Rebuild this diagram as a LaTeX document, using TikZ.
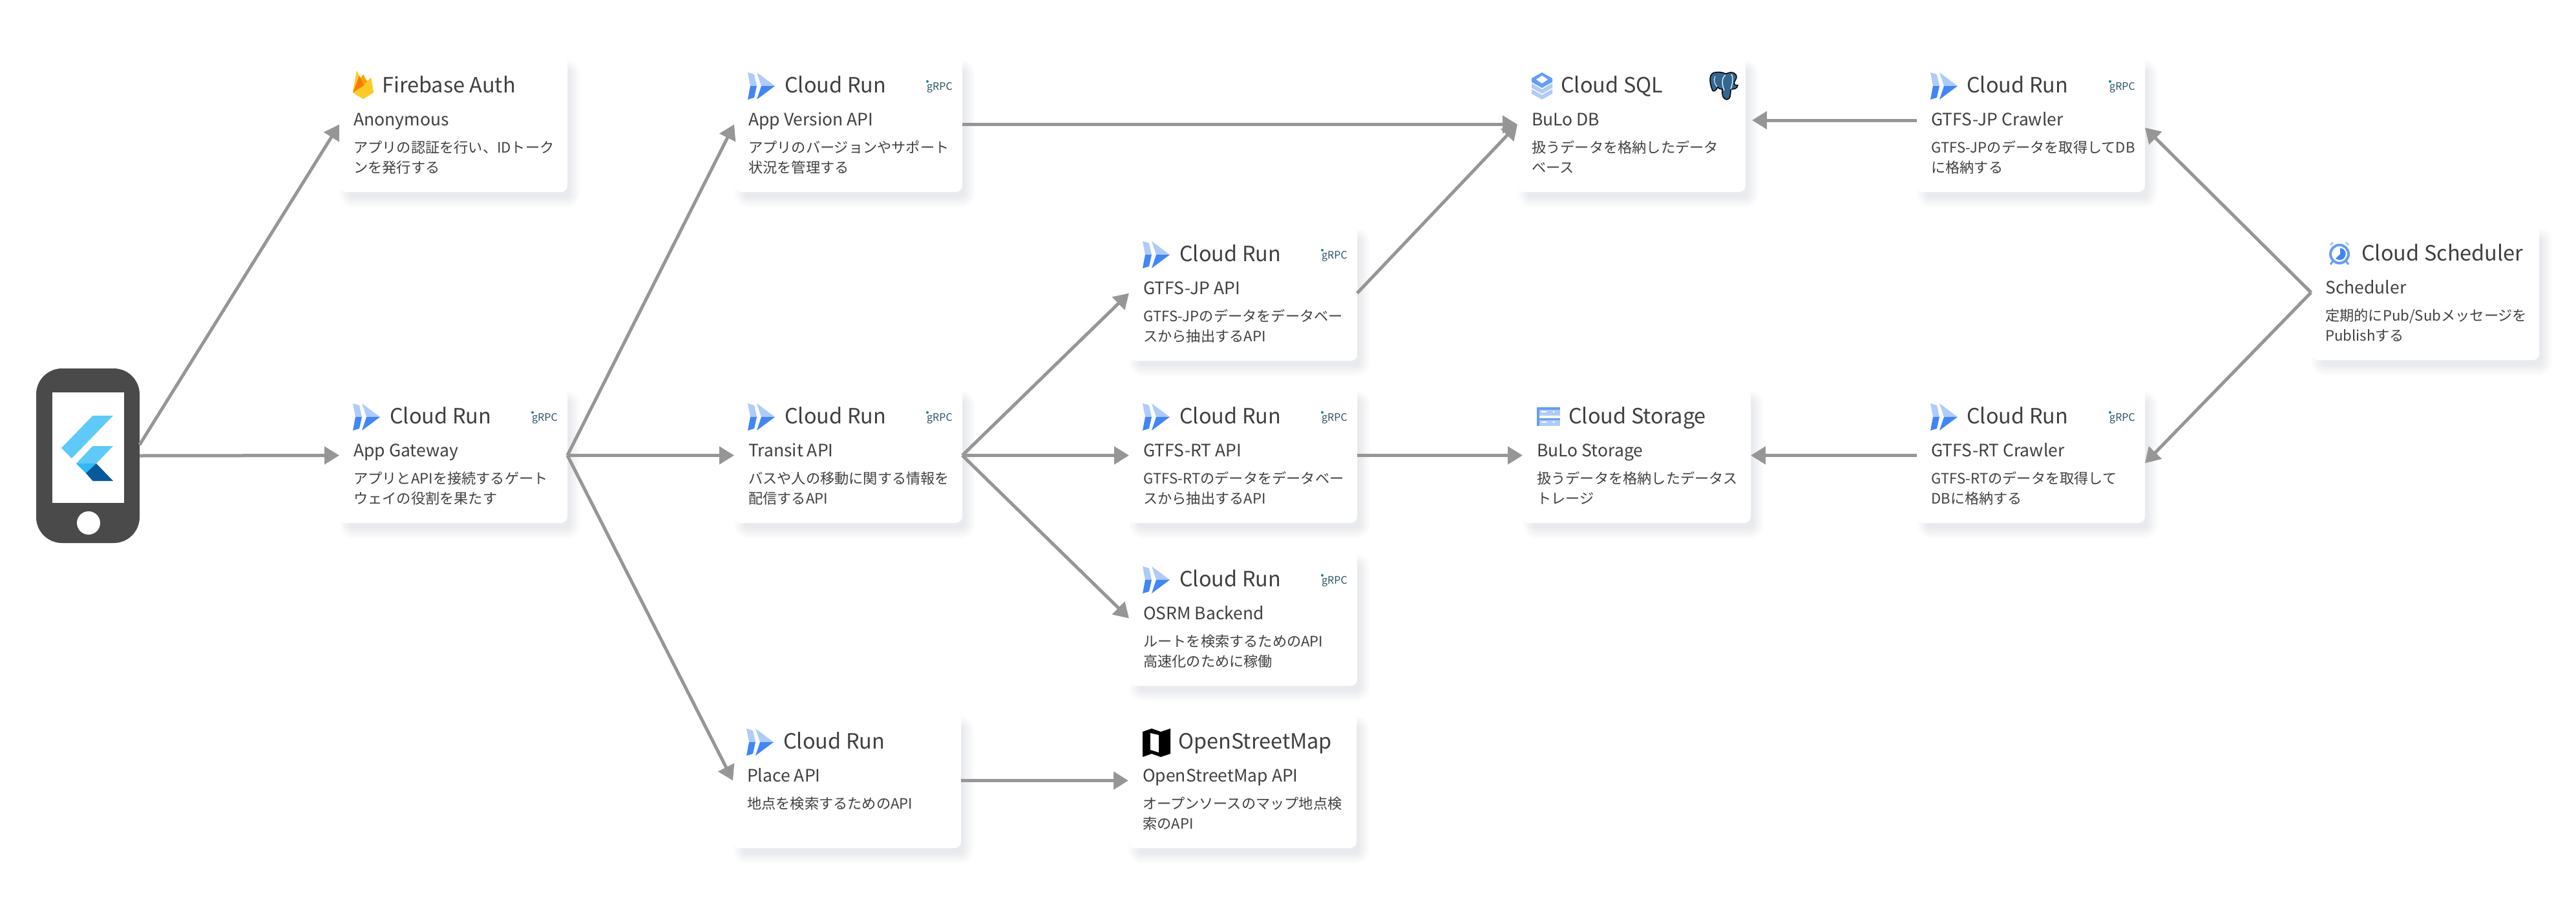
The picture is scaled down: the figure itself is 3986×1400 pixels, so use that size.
\documentclass[tikz,border=0pt]{standalone}
\usepackage{fontspec}
\setmainfont{Noto Sans CJK JP}
\usetikzlibrary{arrows.meta,backgrounds,shapes.geometric}
\definecolor{inkgray}{HTML}{404040}
\definecolor{edgegray}{HTML}{969696}
\definecolor{phonegray}{HTML}{4A4A4A}
\definecolor{gcpblue}{HTML}{4285F4}
\definecolor{gcpmid}{HTML}{669DF6}
\definecolor{gcplight}{HTML}{AECBFA}
\definecolor{grpcink}{HTML}{2C5468}
\definecolor{grpcdot}{HTML}{0E8A8E}
\definecolor{pgblue}{HTML}{336791}
\definecolor{shadowink}{HTML}{2D3A55}
\definecolor{flutterlight}{HTML}{5FC9F8}
\definecolor{fluttermid}{HTML}{2FB8F6}
\definecolor{flutterdark}{HTML}{06599B}
\definecolor{flameyellow}{HTML}{FFCA28}
\definecolor{flameamber}{HTML}{FFA000}
\definecolor{flameorange}{HTML}{F57C00}
\tikzset{
  card/.style={anchor=north west,fill=white,rounded corners=10pt,minimum width=353pt,minimum height=209pt,inner sep=0pt,outer sep=0pt},
  cardtitle/.style={anchor=base west,inner sep=0pt,text=inkgray,font=\fontsize{32.5}{40}\selectfont},
  cardname/.style={anchor=base west,inner sep=0pt,text=inkgray,font=\fontsize{26.5}{32}\selectfont},
  carddesc/.style={anchor=north west,inner sep=0pt,align=left,text=inkgray,font=\fontsize{22.2}{30.5}\selectfont},
  flow/.style={draw=edgegray,line width=5pt,-{Triangle[length=23pt,width=27pt]}},
  grpctext/.style={anchor=base west,inner sep=0pt,text=grpcink,font=\fontsize{16}{20}\selectfont},
  grpcmark/.pic={
    \fill [grpcdot] (299,38) circle (2);
    \node [grpctext] (label) at (298,51) {gRPC};
  },
  runicon/.pic={
    \fill [gcplight] (21,24) -- (31,27) -- (35,45) -- (25,45) -- cycle;
    \fill [gcpblue] (25,45) -- (35,45) -- (31,63) -- (21,66) -- cycle;
    \fill [gcplight] (35,24) -- (63,45) -- (42,45) -- cycle;
    \fill [gcpblue] (42,45) -- (63,45) -- (35,66) -- cycle;
  },
  flameicon/.pic={
    \fill [flameamber] (21,55) -- (27,22) -- (33,33) -- (37,27) -- (43,38) -- (49,32) -- (53,55) -- (37,65) -- cycle;
    \fill [flameyellow] (21,55) -- (38,44) -- (49,32) -- (53,55) -- (37,65) -- cycle;
    \fill [flameorange] (21,55) -- (31,29) -- (38,44) -- cycle;
    \fill [flameyellow] (21,55) -- (27,22) -- (31,29) -- cycle;
  },
  sqlicon/.pic={
    \fill [gcpmid] (38,24) -- (54,33) -- (54,39) -- (38,48) -- (22,39) -- (22,33) -- cycle;
    \fill [white] (38,29) -- (47,35) -- (38,41) -- (29,35) -- cycle;
    \fill [gcplight] (22,41) -- (38,50) -- (54,41) -- (54,48) -- (38,57) -- (22,48) -- cycle;
    \fill [gcplight] (22,50) -- (38,59) -- (54,50) -- (54,57) -- (38,66) -- (22,57) -- cycle;
  },
  elephanticon/.pic={
    \draw [black,line width=1.5pt,fill=pgblue] (306,24) .. controls (297,25) and (296,36) .. (301,50)
      .. controls (303,56) and (307,52) .. (310,47) .. controls (313,50) and (315,50) .. (317,50)
      .. controls (316,60) and (319,66) .. (324,66) .. controls (330,66) and (330,56) .. (330,50)
      .. controls (336,50) and (340,49) .. (341,44) .. controls (335,44) and (335,42) .. (336,38)
      .. controls (342,30) and (338,24) .. (330,24) -- (322,26) .. controls (318,24) and (312,23) .. (306,24) -- cycle;
    \draw [white,line width=1.2pt] (322,28) .. controls (316,32) and (316,42) .. (320,52);
    \draw [white,line width=1.2pt] (331,27) .. controls (335,33) and (332,44) .. (330,50);
    \draw [white,line width=1pt] (306,30) .. controls (303,36) and (305,42) .. (309,46);
  },
  storageicon/.pic={
    \fill [gcplight] (22,30) rectangle (58,43);
    \fill [gcplight] (22,47) rectangle (58,59);
    \fill [gcpmid] (22,30) rectangle (58,34);
    \fill [gcpmid] (22,47) rectangle (58,50);
    \fill [gcpmid] (22,30) rectangle (26,59);
    \fill [white] (29,36) rectangle (37,38);
    \fill [white] (29,52) rectangle (37,54);
    \fill [white] (48,37) circle (1.6);
    \fill [white] (48,53) circle (1.6);
  },
  clockicon/.pic={
    \draw [gcplight,line width=3pt] (30,31) -- (34,27);
    \draw [gcplight,line width=3pt] (58,31) -- (54,27);
    \draw [gcpmid,line width=3pt] (34,56) -- (30,61);
    \draw [gcpmid,line width=3pt] (54,56) -- (58,61);
    \draw [gcpmid,line width=4pt,fill=white] (44,45) circle (14);
    \fill [gcpblue] (45,36) .. controls (52,36) and (55,43) .. (53,48) .. controls (51,54) and (44,56) .. (38,52) -- (45,45) -- cycle;
  },
  mapicon/.pic={
    \fill [black] (22,29) -- (36,24) -- (50,29) -- (65,24) -- (65,63) -- (50,68) -- (36,63) -- (22,68) -- cycle;
    \fill [white] (34,31) -- (47,34) -- (47,61) -- (34,57) -- cycle;
  },
}
\begin{document}
\begin{tikzpicture}[x=1pt,y=-1pt]
\useasboundingbox (0,0) rectangle (3986,1400);
% first column
\node [card] (auth) at (525,88) {};
\node [cardtitle] (authtitle) at ([shift={(66,55)}]auth.north west) {Firebase Auth};
\node [cardname] (authname) at ([shift={(22,106)}]auth.north west) {Anonymous};
\node [carddesc] (authdesc) at ([shift={(22,127)}]auth.north west) {\strut アプリの認証を行い、IDトーク\\ンを発行する};
\pic at (auth.north west) {flameicon};
\node [card] (gateway) at (525,600) {};
\node [cardtitle] (gatewaytitle) at ([shift={(78,55)}]gateway.north west) {Cloud Run};
\node [cardname] (gatewayname) at ([shift={(22,106)}]gateway.north west) {App Gateway};
\node [carddesc] (gatewaydesc) at ([shift={(22,127)}]gateway.north west) {\strut アプリとAPIを接続するゲート\\ウェイの役割を果たす};
\pic at (gateway.north west) {runicon};
\pic (gateway) at (gateway.north west) {grpcmark};
% second column
\node [card] (version) at (1136,88) {};
\node [cardtitle] (versiontitle) at ([shift={(78,55)}]version.north west) {Cloud Run};
\node [cardname] (versionname) at ([shift={(22,106)}]version.north west) {App Version API};
\node [carddesc] (versiondesc) at ([shift={(22,127)}]version.north west) {\strut アプリのバージョンやサポート\\状況を管理する};
\pic at (version.north west) {runicon};
\pic (version) at (version.north west) {grpcmark};
\node [card] (transit) at (1136,600) {};
\node [cardtitle] (transittitle) at ([shift={(78,55)}]transit.north west) {Cloud Run};
\node [cardname] (transitname) at ([shift={(22,106)}]transit.north west) {Transit API};
\node [carddesc] (transitdesc) at ([shift={(22,127)}]transit.north west) {\strut バスや人の移動に関する情報を\\配信するAPI};
\pic at (transit.north west) {runicon};
\pic (transit) at (transit.north west) {grpcmark};
\node [card] (place) at (1134,1103) {};
\node [cardtitle] (placetitle) at ([shift={(78,55)}]place.north west) {Cloud Run};
\node [cardname] (placename) at ([shift={(22,106)}]place.north west) {Place API};
\node [carddesc] (placedesc) at ([shift={(22,127)}]place.north west) {\strut 地点を検索するためのAPI};
\pic at (place.north west) {runicon};
% third column
\node [card] (jpapi) at (1747,349) {};
\node [cardtitle] (jpapititle) at ([shift={(78,55)}]jpapi.north west) {Cloud Run};
\node [cardname] (jpapiname) at ([shift={(22,106)}]jpapi.north west) {GTFS-JP API};
\node [carddesc] (jpapidesc) at ([shift={(22,127)}]jpapi.north west) {\strut GTFS-JPのデータをデータベー\\スから抽出するAPI};
\pic at (jpapi.north west) {runicon};
\pic (jpapi) at (jpapi.north west) {grpcmark};
\node [card] (rtapi) at (1747,600) {};
\node [cardtitle] (rtapititle) at ([shift={(78,55)}]rtapi.north west) {Cloud Run};
\node [cardname] (rtapiname) at ([shift={(22,106)}]rtapi.north west) {GTFS-RT API};
\node [carddesc] (rtapidesc) at ([shift={(22,127)}]rtapi.north west) {\strut GTFS-RTのデータをデータベー\\スから抽出するAPI};
\pic at (rtapi.north west) {runicon};
\pic (rtapi) at (rtapi.north west) {grpcmark};
\node [card] (osrm) at (1747,852) {};
\node [cardtitle] (osrmtitle) at ([shift={(78,55)}]osrm.north west) {Cloud Run};
\node [cardname] (osrmname) at ([shift={(22,106)}]osrm.north west) {OSRM Backend};
\node [carddesc] (osrmdesc) at ([shift={(22,127)}]osrm.north west) {\strut ルートを検索するためのAPI\\高速化のために稼働};
\pic at (osrm.north west) {runicon};
\pic (osrm) at (osrm.north west) {grpcmark};
\node [card] (osm) at (1746,1103) {};
\node [cardtitle] (osmtitle) at ([shift={(77,55)}]osm.north west) {OpenStreetMap};
\node [cardname] (osmname) at ([shift={(22,106)}]osm.north west) {OpenStreetMap API};
\node [carddesc] (osmdesc) at ([shift={(22,127)}]osm.north west) {\strut オープンソースのマップ地点検\\索のAPI};
\pic at (osm.north west) {mapicon};
% data stores
\node [card] (db) at (2348,88) {};
\node [cardtitle] (dbtitle) at ([shift={(67,55)}]db.north west) {Cloud SQL};
\node [cardname] (dbname) at ([shift={(22,106)}]db.north west) {BuLo DB};
\node [carddesc] (dbdesc) at ([shift={(22,127)}]db.north west) {\strut 扱うデータを格納したデータ\\ベース};
\pic at (db.north west) {sqlicon};
\pic at (db.north west) {elephanticon};
\node [card] (storage) at (2356,600) {};
\node [cardtitle] (storagetitle) at ([shift={(71,55)}]storage.north west) {Cloud Storage};
\node [cardname] (storagename) at ([shift={(22,106)}]storage.north west) {BuLo Storage};
\node [carddesc] (storagedesc) at ([shift={(22,127)}]storage.north west) {\strut 扱うデータを格納したデータス\\トレージ};
\pic at (storage.north west) {storageicon};
% crawlers
\node [card] (jpcrawler) at (2966,88) {};
\node [cardtitle] (jpcrawlertitle) at ([shift={(77,55)}]jpcrawler.north west) {Cloud Run};
\node [cardname] (jpcrawlername) at ([shift={(22,106)}]jpcrawler.north west) {GTFS-JP Crawler};
\node [carddesc] (jpcrawlerdesc) at ([shift={(22,127)}]jpcrawler.north west) {\strut GTFS-JPのデータを取得してDB\\に格納する};
\pic at (jpcrawler.north west) {runicon};
\pic (jpcrawler) at (jpcrawler.north west) {grpcmark};
\node [card] (rtcrawler) at (2966,600) {};
\node [cardtitle] (rtcrawlertitle) at ([shift={(77,55)}]rtcrawler.north west) {Cloud Run};
\node [cardname] (rtcrawlername) at ([shift={(22,106)}]rtcrawler.north west) {GTFS-RT Crawler};
\node [carddesc] (rtcrawlerdesc) at ([shift={(22,127)}]rtcrawler.north west) {\strut GTFS-RTのデータを取得して\\DBに格納する};
\pic at (rtcrawler.north west) {runicon};
\pic (rtcrawler) at (rtcrawler.north west) {grpcmark};
\node [card] (scheduler) at (3576,348) {};
\node [cardtitle] (schedulertitle) at ([shift={(78,55)}]scheduler.north west) {Cloud Scheduler};
\node [cardname] (schedulername) at ([shift={(22,106)}]scheduler.north west) {Scheduler};
\node [carddesc] (schedulerdesc) at ([shift={(22,127)}]scheduler.north west) {\strut 定期的にPub/Subメッセージを\\Publishする};
\pic at (scheduler.north west) {clockicon};
% phone
\node [fill=phonegray,rounded corners=40pt,minimum width=160pt,minimum height=270pt,inner sep=0pt,outer sep=0pt] (phone) at (136,705) {};
\node [fill=white,minimum width=111pt,minimum height=171pt,inner sep=0pt] (screen) at (136.5,692.5) {};
\node [circle,fill=white,minimum size=36pt,inner sep=0pt] (homebutton) at (137,809) {};
\fill [flutterlight] (143.5,643) -- (175,643) -- (111,709) -- (95,693) -- cycle;
\fill [flutterlight] (143.5,690) -- (175,690) -- (149,717) -- (118,717) -- cycle;
\fill [fluttermid] (118,717) -- (149,717) -- (133,732) -- cycle;
\fill [flutterdark] (149,717) -- (175,744) -- (143.5,744) -- (133,732) -- cycle;
% connectors
\draw [flow] ([yshift=17pt]phone.east) -- (auth.west);
\draw [flow] (phone.east) -- (gateway.west);
\draw [flow] (gateway.east) -- (version.west);
\draw [flow] (gateway.east) -- (transit.west);
\draw [flow] (gateway.east) -- (place.west);
\draw [flow] (version.east) -- (db.west);
\draw [flow] (transit.east) -- (jpapi.west);
\draw [flow] (transit.east) -- (rtapi.west);
\draw [flow] (transit.east) -- (osrm.west);
\draw [flow] (jpapi.east) -- (db.west);
\draw [flow] (rtapi.east) -- (storage.west);
\draw [flow] (place.east) -- (osm.west);
\draw [flow] ([yshift=6.5pt]jpcrawler.west) -- ([shift={(10,-6.5)}]db.east);
\draw [flow] (rtcrawler.west) -- (storage.east);
\draw [flow] (scheduler.west) -- ([yshift=-5pt]jpcrawler.east);
\draw [flow] (scheduler.west) -- ([yshift=-12pt]rtcrawler.east);
% soft card shadows
\begin{pgfonlayer}{background}
\foreach \n in {auth,gateway,version,transit,place,jpapi,rtapi,osrm,osm,db,storage,jpcrawler,rtcrawler,scheduler}
  \foreach \r in {-6,-4,...,10}
    \fill [shadowink,opacity=0.01,rounded corners={(\r+12)*1pt}] ([shift={(10-\r,14-\r)}]\n.north west) rectangle ([shift={(10+\r,14+\r)}]\n.south east);
\end{pgfonlayer}
\end{tikzpicture}
\end{document}
